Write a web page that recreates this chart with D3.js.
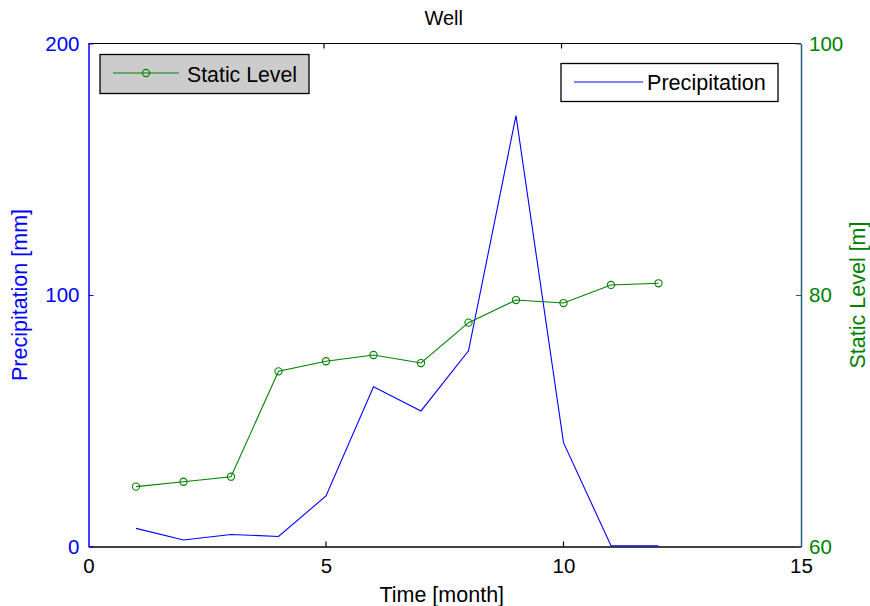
<!DOCTYPE html>
<html>
<head>
<meta charset="utf-8">
<script src="https://cdn.jsdelivr.net/npm/d3@7"></script>
<style>
  html, body { margin: 0; padding: 0; background: #fff; }
  text { font-family: "Liberation Sans", Arial, sans-serif; }
</style>
</head>
<body>
<svg id="chart" width="870" height="606"></svg>
<script>
const months = [1, 2, 3, 4, 5, 6, 7, 8, 9, 10, 11, 12];
const precipitation = [7.2, 2.6, 4.8, 4.0, 20.1, 63.5, 53.9, 77.8, 171.3, 41.3, 0.3, 0.3];
const staticLevel = [64.76, 65.15, 65.55, 73.93, 74.73, 75.23, 74.59, 77.8, 79.6, 79.36, 80.8, 80.93];
const xTicks = [0, 5, 10, 15];
const leftTicks = [0, 100, 200];
const rightTicks = [60, 80, 100];

const svg = d3.select("#chart");
const L = 88.5, R = 801, T = 43.5, B = 546.5;
const blue = "#0000ff", green = "#008000", axisTeal = "#1f5f7f";

const x = d3.scaleLinear().domain([0, 15]).range([L, R]);
const yL = d3.scaleLinear().domain([0, 200]).range([B, T]);
const yR = d3.scaleLinear().domain([60, 100]).range([B, T]);

const fs = "20.5px";
const fsLab = "21.5px";

// top border
svg.append("line").attr("x1", L).attr("x2", R).attr("y1", T).attr("y2", T)
  .attr("stroke", "#000").attr("stroke-width", 1);

// bottom x axis
const xAxisG = svg.append("g").attr("transform", `translate(0,${B})`)
  .call(d3.axisBottom(x).tickValues(xTicks).tickSize(0).tickPadding(12).tickFormat(d3.format("d")));
xAxisG.select(".domain").attr("stroke", "#000").attr("stroke-width", 1.5);
xAxisG.selectAll("text").attr("font-size", fs).attr("fill", "#000").style("font-family", "Liberation Sans, Arial, sans-serif");
// inner x ticks bottom and top
svg.selectAll(".xtb").data(xTicks.slice(1, 3)).enter().append("line")
  .attr("x1", d => x(d)).attr("x2", d => x(d)).attr("y1", B).attr("y2", B - 5)
  .attr("stroke", "#000").attr("stroke-width", 1.2);
svg.selectAll(".xtt").data(xTicks.slice(1, 3)).enter().append("line")
  .attr("x1", d => x(d) - 2).attr("x2", d => x(d) - 2).attr("y1", T).attr("y2", T + 5)
  .attr("stroke", "#000").attr("stroke-width", 1.2);

// left axis
const yLG = svg.append("g").attr("transform", `translate(${L},0)`)
  .call(d3.axisLeft(yL).tickValues(leftTicks).tickSizeInner(-5).tickSizeOuter(0).tickPadding(9));
yLG.select(".domain").attr("stroke", blue).attr("stroke-width", 1.5);
yLG.selectAll(".tick line").attr("stroke", blue);
yLG.selectAll("text").attr("font-size", fs).attr("fill", blue).style("font-family", "Liberation Sans, Arial, sans-serif");

// right axis
const yRG = svg.append("g").attr("transform", `translate(${R},0)`)
  .call(d3.axisRight(yR).tickValues(rightTicks).tickSizeInner(-5).tickSizeOuter(0).tickPadding(8));
yRG.select(".domain").attr("stroke", axisTeal).attr("stroke-width", 1.5);
yRG.selectAll(".tick line").attr("stroke", axisTeal);
yRG.selectAll("text").attr("font-size", fs).attr("fill", green).style("font-family", "Liberation Sans, Arial, sans-serif");

// lines
const precipLine = d3.line().x((d, i) => x(months[i])).y(d => yL(d));
svg.append("path").datum(precipitation).attr("d", precipLine)
  .attr("fill", "none").attr("stroke", blue).attr("stroke-width", 1.1);

const staticLine = d3.line().x((d, i) => x(months[i])).y(d => yR(d));
svg.append("path").datum(staticLevel).attr("d", staticLine)
  .attr("fill", "none").attr("stroke", green).attr("stroke-width", 1.1);
svg.selectAll(".mk").data(staticLevel).enter().append("circle")
  .attr("cx", (d, i) => x(months[i])).attr("cy", d => yR(d)).attr("r", 3.6)
  .attr("fill", "none").attr("stroke", green).attr("stroke-width", 1.1);

// title and labels
svg.append("text").attr("x", (L + R) / 2 - 1).attr("y", 25).attr("text-anchor", "middle")
  .attr("font-size", "20px").attr("fill", "#000").text("Well");
svg.append("text").attr("x", (L + R) / 2 - 3).attr("y", 602).attr("text-anchor", "middle")
  .attr("font-size", fsLab).attr("fill", "#000").text("Time [month]");
svg.append("text").attr("transform", `translate(27,${(T + B) / 2}) rotate(-90)`)
  .attr("text-anchor", "middle").attr("font-size", fsLab).attr("fill", blue).text("Precipitation [mm]");
svg.append("text").attr("transform", `translate(865,${(T + B) / 2}) rotate(-90)`)
  .attr("text-anchor", "middle").attr("font-size", fsLab).attr("fill", green).text("Static Level [m]");

// legend: Static Level
const lg1 = svg.append("g");
lg1.append("rect").attr("x", 100).attr("y", 54.5).attr("width", 209).attr("height", 39)
  .attr("fill", "#cccccc").attr("stroke", "#000").attr("stroke-width", 1.3);
lg1.append("line").attr("x1", 113).attr("x2", 179).attr("y1", 73).attr("y2", 73)
  .attr("stroke", green).attr("stroke-width", 1.1);
lg1.append("circle").attr("cx", 146).attr("cy", 73).attr("r", 3.6)
  .attr("fill", "none").attr("stroke", green).attr("stroke-width", 1.1);
lg1.append("text").attr("x", 187).attr("y", 81.5).attr("font-size", "21.3px").attr("fill", "#000").text("Static Level");

// legend: Precipitation
const lg2 = svg.append("g");
lg2.append("rect").attr("x", 561).attr("y", 63.5).attr("width", 217).attr("height", 38)
  .attr("fill", "#fff").attr("stroke", "#000").attr("stroke-width", 1.3);
lg2.append("line").attr("x1", 574).attr("x2", 643).attr("y1", 82).attr("y2", 82)
  .attr("stroke", blue).attr("stroke-width", 1.1);
lg2.append("text").attr("x", 647).attr("y", 90).attr("font-size", "21.6px").attr("fill", "#000").text("Precipitation");
</script>
</body>
</html>
